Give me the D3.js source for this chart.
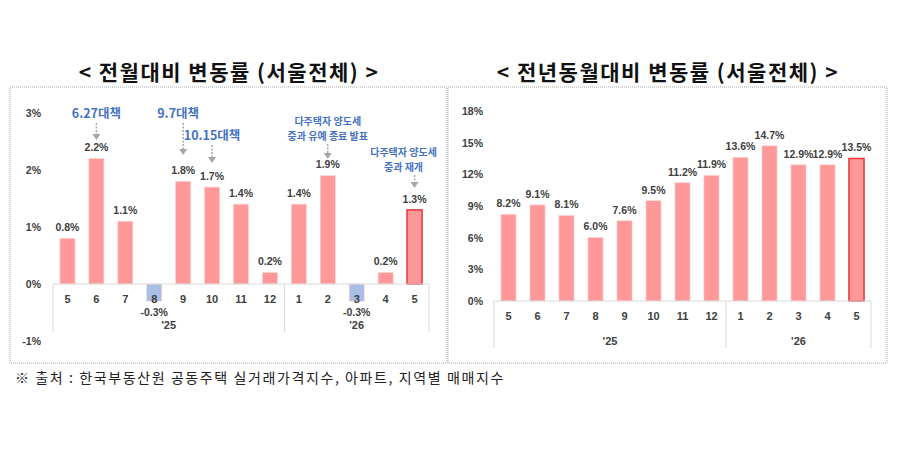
<!DOCTYPE html>
<html><head><meta charset="utf-8">
<script src="https://cdn.jsdelivr.net/npm/d3@7"></script>
<style>
body{margin:0;background:#fff;}
svg{display:block;font-family:"Noto Sans CJK KR","Noto Sans",sans-serif;}
</style></head>
<body><svg id="c" width="900" height="450"></svg>
<script>
// ---- data ----
const months = ["5","6","7","8","9","10","11","12","1","2","3","4","5"];
const years = [{label:"'25", start:0, end:8},{label:"'26", start:8, end:13}];
const momValues = [0.8, 2.2, 1.1, -0.3, 1.8, 1.7, 1.4, 0.2, 1.4, 1.9, -0.3, 0.2, 1.3];
const yoyValues = [8.2, 9.1, 8.1, 6.0, 7.6, 9.5, 11.2, 11.9, 13.6, 14.7, 12.9, 12.9, 13.5];
const momTicks = [-1, 0, 1, 2, 3];
const yoyTicks = [0, 3, 6, 9, 12, 15, 18];
const titles = ["< 전월대비 변동률 (서울전체) >", "< 전년동월대비 변동률 (서울전체) >"];
const annotations = [
  {i:1, lines:["6.27대책"]},
  {i:4, lines:["9.7대책"]},
  {i:5, lines:["10.15대책"]},
  {i:9, lines:["다주택자 양도세","중과 유예 종료 발표"]},
  {i:12, lines:["다주택자 양도세","중과 재개"]}
];
const source = "※ 출처 : 한국부동산원 공동주택 실거래가격지수, 아파트, 지역별 매매지수";

// ---- layout (not data) ----
const annLayout = [
  {textY:[115], textDx:0, a0:123, a1:140, big:true},
  {textY:[115], textDx:-5, a0:123, a1:155, big:true},
  {textY:[137], textDx:0, a0:145, a1:163, big:true},
  {textY:[122,137], textDx:0, a0:144, a1:159, big:false},
  {textY:[153,168], textDx:-11, a0:175, a1:188, big:false}
];
const pink = "#ff9999", blue = "#a8bfe6", lastStroke = "#e8363c";
const txt = "#404040", axisCol = "#d9d9d9", annCol = "#4472c4";
const numFont = "'Liberation Sans',Arial,sans-serif";

const svg = d3.select("#c");

svg.append("rect").attr("x",10).attr("y",87).attr("width",437).attr("height",276)
  .attr("fill","none").attr("stroke","#a6a6a6").attr("stroke-dasharray","1,1");
svg.append("rect").attr("x",448).attr("y",87).attr("width",439).attr("height",276)
  .attr("fill","none").attr("stroke","#a6a6a6").attr("stroke-dasharray","1,1");

[[229,titles[0]],[668,titles[1]]].forEach(([x,t])=>{
  svg.append("text").attr("x",x).attr("y",80).attr("text-anchor","middle")
    .attr("font-size",21).attr("letter-spacing",1.5).attr("font-weight",700).attr("fill","#111").text(t);
});

function drawChart(cfg){
  const {values, ticks, yDomain, yRange, xRange, tickX, monthY, yearY, sepBottom, negLabelY, fmt} = cfg;
  const x = d3.scaleBand().domain(d3.range(values.length)).range(xRange)
    .paddingInner(0.48).paddingOuter(0.24);
  const y = d3.scaleLinear().domain(yDomain).range(yRange);
  const g = svg.append("g");

  const ya = g.append("g").attr("transform",`translate(${tickX},0)`)
    .call(d3.axisLeft(y).tickValues(ticks).tickSize(0).tickPadding(0).tickFormat(d=>d+"%"));
  ya.select(".domain").remove();
  ya.selectAll("text").attr("font-size",10.5).attr("font-weight",700).attr("fill",txt)
    .attr("font-family",numFont);

  g.selectAll("rect.bar").data(values).join("rect").attr("class","bar")
    .attr("x",(d,i)=>x(i)).attr("width",x.bandwidth())
    .attr("y",d=>y(Math.max(0,d))).attr("height",d=>Math.abs(y(d)-y(0)))
    .attr("fill",d=>d<0?blue:pink)
    .attr("stroke",(d,i)=>i===values.length-1?lastStroke:"#ffd0d0")
    .attr("stroke-width",(d,i)=>i===values.length-1?1.5:0.6);

  const xa = g.append("g").attr("transform",`translate(0,${y(0)})`)
    .call(d3.axisBottom(x).tickSize(0).tickPadding(0).tickFormat(i=>months[i]));
  xa.select(".domain").attr("stroke",axisCol).attr("d",`M${xRange[0]},0H${xRange[1]}`);
  xa.selectAll("text").attr("dy",0).attr("y",monthY-y(0)).attr("dominant-baseline","middle")
    .attr("font-family",numFont).attr("font-size",11).attr("font-weight",700).attr("fill",txt);

  const step = x.step();
  const sepX = i => xRange[0] + i*step;
  const seps = [0].concat(years.map(yr=>yr.end));
  g.selectAll("line.sep").data(seps).join("line").attr("class","sep")
    .attr("x1",sepX).attr("x2",sepX).attr("y1",y(0)).attr("y2",sepBottom)
    .attr("stroke",axisCol).attr("stroke-width",1);
  g.selectAll("text.yr").data(years).join("text").attr("class","yr")
    .attr("x",d=>(sepX(d.start)+sepX(d.end))/2).attr("y",yearY)
    .attr("dominant-baseline","middle").attr("text-anchor","middle")
    .attr("font-family",numFont).attr("font-size",11).attr("font-weight",700).attr("fill",txt).text(d=>d.label);

  g.selectAll("text.val").data(values).join("text").attr("class","val")
    .attr("x",(d,i)=>x(i)+x.bandwidth()/2)
    .attr("y",d=>d<0?negLabelY:y(d)-10)
    .attr("dominant-baseline","middle")
    .attr("text-anchor","middle").attr("font-family",numFont).attr("font-size",10.5).attr("font-weight",700)
    .attr("fill",txt).text(d=>fmt(d)+"%");
  return {x,y};
}

const left = drawChart({values:momValues, ticks:momTicks, yDomain:[-1,3], yRange:[341,113],
  xRange:[53,429], tickX:41, monthY:300, yearY:326, sepBottom:332, negLabelY:313,
  fmt:d=>d.toFixed(1)});
drawChart({values:yoyValues, ticks:yoyTicks, yDomain:[0,18], yRange:[301,111],
  xRange:[494,871], tickX:483, monthY:317, yearY:342, sepBottom:348, negLabelY:0,
  fmt:d=>d.toFixed(1)});

annotations.forEach((a,k)=>{
  const L = annLayout[k];
  const cx = left.x(a.i)+left.x.bandwidth()/2;
  a.lines.forEach((ln,j)=>{
    svg.append("text").attr("x",cx+L.textDx).attr("y",L.textY[j]).attr("dominant-baseline","middle")
      .attr("text-anchor","middle").attr("font-size",L.big?12.5:10).attr("font-weight",700)
      .attr("fill",annCol).text(ln);
  });
  svg.append("line").attr("x1",cx).attr("x2",cx).attr("y1",L.a0).attr("y2",L.a1-5)
    .attr("stroke","#a6a6a6").attr("stroke-width",1.5).attr("stroke-dasharray","2,1.5");
  svg.append("path").attr("d",`M${cx-4},${L.a1-6}L${cx+4},${L.a1-6}L${cx},${L.a1}Z`).attr("fill","#a6a6a6");
});

svg.append("text").attr("x",15).attr("y",383).attr("font-size",14).attr("letter-spacing",1.6)
  .attr("fill","#222").attr("font-family","'Noto Sans CJK KR',sans-serif").text(source);
</script></body></html>
